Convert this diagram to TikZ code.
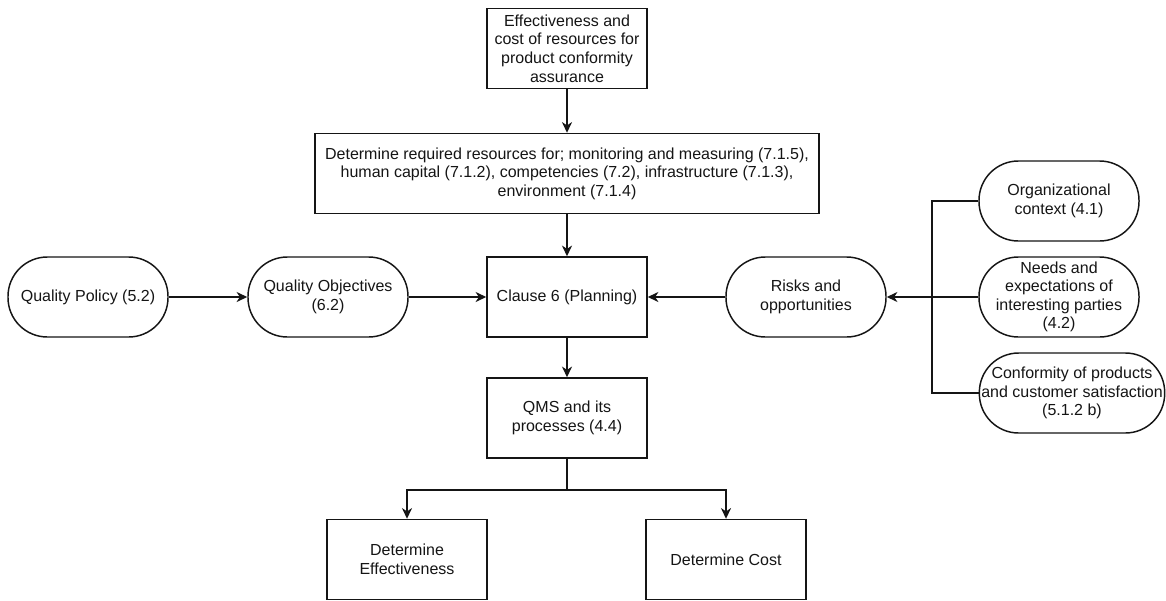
\documentclass[tikz,border=0pt]{standalone}
\usepackage{fontspec}
\setmainfont{Liberation Sans}
\usetikzlibrary{arrows.meta}
\definecolor{ink}{HTML}{151515}
\begin{document}
\begin{tikzpicture}[x=0.75pt,y=-0.75pt,
  font=\fontsize{12}{13.9}\selectfont,
  every node/.style={text=ink, align=center, inner sep=0pt},
  rectbox/.style={draw=ink, line width=1.1pt, fill=white, minimum width=120pt, minimum height=60pt},
  termbox/.style={draw=ink, line width=1.1pt, fill=white, minimum width=120pt, minimum height=60pt, rounded corners=29.5pt},
  conn/.style={draw=ink, line width=1.2pt},
  arr/.style={conn, -{Stealth[length=8pt,width=7.5pt,inset=2.5pt]}}
]
\useasboundingbox (0,0) rectangle (1166,600);

% process boxes
\node[rectbox] (top) at (567,48.5) {Effectiveness and\\cost of resources for\\product conformity\\assurance};
\node[rectbox, minimum width=378pt] (req) at (567,173.5) {Determine required resources for; monitoring and measuring (7.1.5),\\human capital (7.1.2), competencies (7.2), infrastructure (7.1.3),\\environment (7.1.4)};
\node[rectbox] (clause) at (567,297) {Clause 6 (Planning)};
\node[rectbox] (qms) at (567,418) {QMS and its\\processes (4.4)};
\node[rectbox] (eff) at (407,559.5) {Determine\\Effectiveness};
\node[rectbox] (cost) at (726,559.5) {Determine Cost};

% terminator shapes
\node[termbox] (qp) at (88,297) {Quality Policy (5.2)};
\node[termbox] (qo) at (328,297) {Quality Objectives\\(6.2)};
\node[termbox] (risk) at (806,297) {Risks and\\opportunities};
\node[termbox] (org) at (1059,201) {Organizational\\context (4.1)};
\node[termbox] (needs) at (1059,297) {Needs and\\expectations of\\interesting parties\\(4.2)};
\node[termbox, minimum width=139pt] (conf) at (1072,393) {Conformity of products\\and customer satisfaction\\(5.1.2 b)};

% junctions
\coordinate (j) at (932,297);
\coordinate (split) at (567,490);

% connectors
\draw[arr] (top.south) -- (req.north);
\draw[arr] (req.south) -- (clause.north);
\draw[arr] (clause.south) -- (qms.north);
\draw[arr] (qp.east) -- (qo.west);
\draw[arr] (qo.east) -- (clause.west);
\draw[arr] (risk.west) -- (clause.east);
\draw[arr] (needs.west) -- (risk.east);
\draw[conn] (org.west) -| (j) |- (conf.west);
\draw[conn] (qms.south) -- (split);
\draw[arr] (split) -| (eff.north);
\draw[arr] (split) -| (cost.north);
\end{tikzpicture}
\end{document}
